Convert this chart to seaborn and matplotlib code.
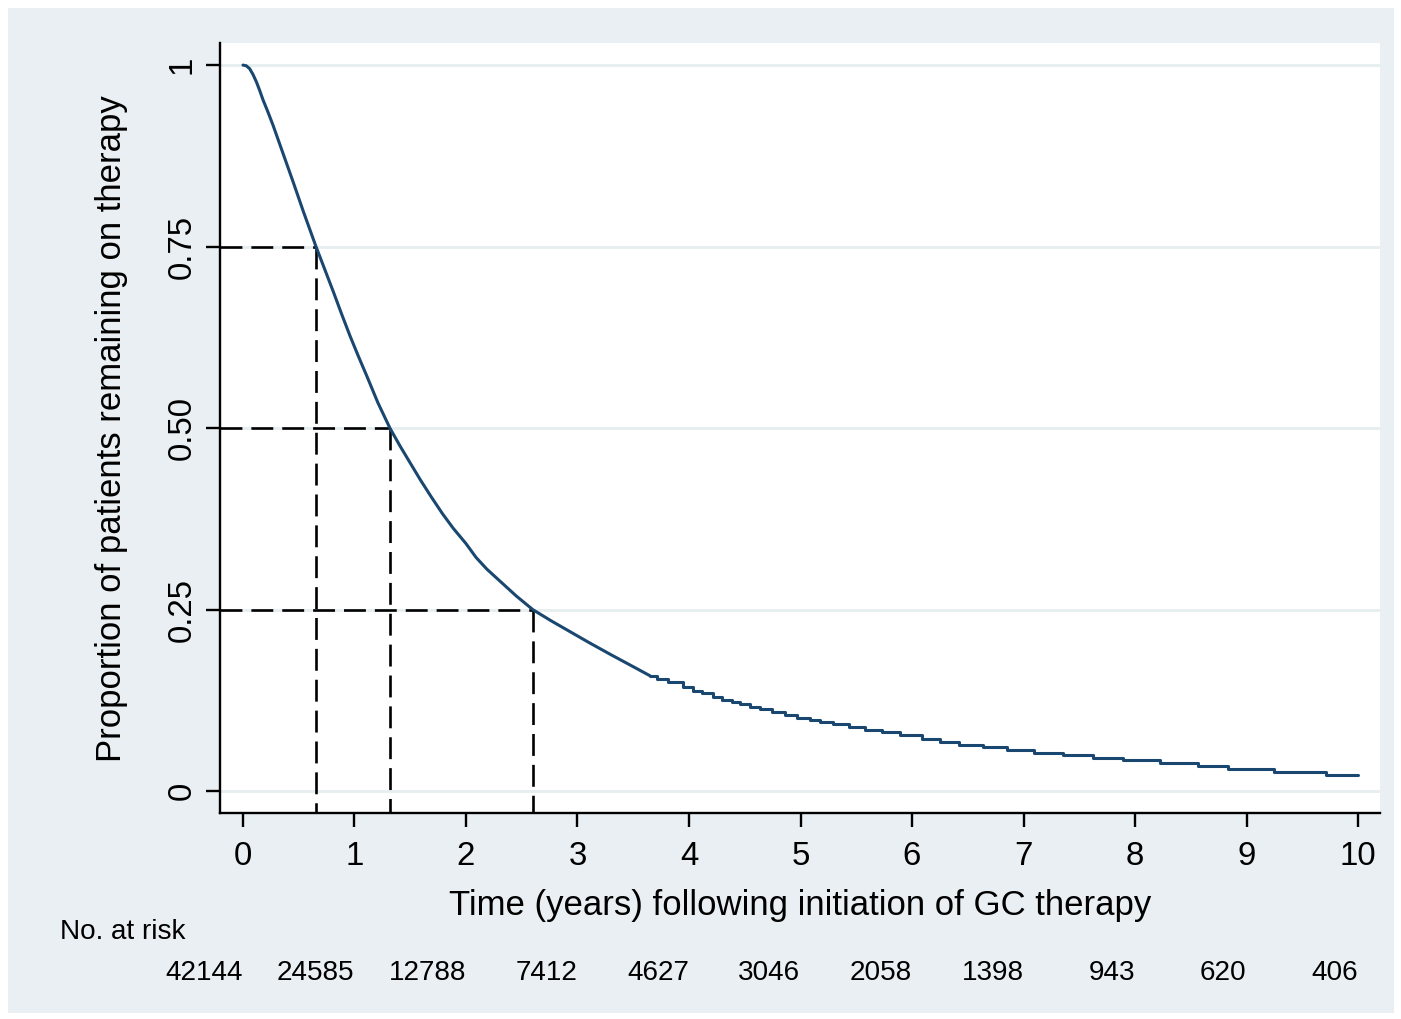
import matplotlib
matplotlib.use("Agg")
import matplotlib.pyplot as plt
import seaborn as sns
import pandas as pd
from matplotlib import font_manager
from matplotlib.patches import Rectangle
from matplotlib.transforms import blended_transform_factory

# ---------------- data ----------------
early_time = [0.0, 0.03, 0.06, 0.09, 0.12, 0.15, 0.18, 0.225, 0.27, 0.36, 0.45, 0.54, 0.655,
              0.73, 0.81, 0.885, 0.96, 1.035, 1.11, 1.21, 1.318, 1.41, 1.50, 1.59, 1.69, 1.79,
              1.886, 2.0, 2.09, 2.186, 2.3, 2.45, 2.60, 2.76, 2.93, 3.1, 3.3, 3.53, 3.65]
early_surv = [1.0, 0.999, 0.995, 0.987, 0.977, 0.965, 0.952, 0.935, 0.917, 0.878, 0.839, 0.799, 0.75,
              0.72, 0.688, 0.657, 0.627, 0.599, 0.572, 0.535, 0.50, 0.475, 0.452, 0.429, 0.405, 0.382,
              0.362, 0.341, 0.322, 0.306, 0.29, 0.269, 0.25, 0.235, 0.220, 0.205, 0.188, 0.169, 0.159]

step_time = [3.65, 3.710, 3.814, 3.949, 4.039, 4.114, 4.218, 4.293, 4.383, 4.457, 4.547,
             4.637, 4.742, 4.861, 4.966, 5.085, 5.175, 5.294, 5.435, 5.578, 5.728, 5.892,
             6.087, 6.251, 6.424, 6.634, 6.855, 7.097, 7.357, 7.621, 7.890, 8.224, 8.568,
             8.83, 9.25, 9.71, 10.0]
step_surv = [0.159, 0.155, 0.150, 0.143, 0.1385, 0.1347, 0.1293, 0.1262, 0.1228, 0.1197, 0.1164,
             0.1127, 0.1090, 0.1043, 0.1015, 0.0986, 0.0956, 0.0921, 0.0880, 0.0848, 0.0812, 0.0773,
             0.0718, 0.0677, 0.0640, 0.0604, 0.0566, 0.0529, 0.0497, 0.0460, 0.0424, 0.0388, 0.0352,
             0.031, 0.027, 0.023, 0.023]

quartile_time = [0.655, 1.318, 2.60]
quartile_level = [0.75, 0.50, 0.25]

x_ticks = list(range(0, 11))
y_ticks = [0, 0.25, 0.5, 0.75, 1]
y_tick_labels = ["0", "0.25", "0.50", "0.75", "1"]
at_risk = [42144, 24585, 12788, 7412, 4627, 3046, 2058, 1398, 943, 620, 406]

x_label = "Time (years) following initiation of GC therapy"
y_label = "Proportion of patients remaining on therapy"
risk_title = "No. at risk"

# ---------------- style ----------------
sns.set_theme(style="white")
fam, fscale = "Liberation Sans", 0.82
for f in font_manager.fontManager.ttflist:
    if "liberation sans narrow" in f.name.lower():
        fam, fscale = f.name, 1.0
        break
plt.rcParams['font.family'] = [fam, 'DejaVu Sans']

BG = "#e9eff2"
GRID = "#e6eef0"
NAVY = "#1a476f"

W, H = 1401, 1019
fig = plt.figure(figsize=(W / 100, H / 100), dpi=100, facecolor="white")
fig.patches.append(Rectangle((8 / W, 1 - 1013 / H), (1394 - 8) / W, (1013 - 8) / H,
                             transform=fig.transFigure, facecolor=BG, edgecolor="none", zorder=-10))

L, R, T, B = 220, 1380, 43, 813
ax = fig.add_axes([L / W, 1 - B / H, (R - L) / W, (B - T) / H])
ax.set_facecolor("white")

df_early = pd.DataFrame({"t": early_time, "s": early_surv})
df_step = pd.DataFrame({"t": step_time, "s": step_surv})
sns.lineplot(data=df_early, x="t", y="s", ax=ax, color=NAVY, lw=2.2, estimator=None, sort=False, zorder=5)
sns.lineplot(data=df_step, x="t", y="s", ax=ax, color=NAVY, lw=2.2, estimator=None, sort=False,
             drawstyle="steps-post", zorder=5)

xmin, xmax = -0.206, 10.197
ymin, ymax = -0.030, 1.0304
ax.set_xlim(xmin, xmax)
ax.set_ylim(ymin, ymax)

for qt, ql in zip(quartile_time, quartile_level):
    ax.plot([xmin, qt], [ql, ql], color="black", lw=1.9, ls=(0, (8.3, 3.4)), zorder=4, clip_on=False)
    ax.plot([qt, qt], [ql, ymin], color="black", lw=1.9, ls=(0, (8.3, 3.4)), zorder=4, clip_on=False)

for yv in y_ticks:
    ax.axhline(yv, color=GRID, lw=2.0, zorder=1)

for s in ["top", "right"]:
    ax.spines[s].set_visible(False)
for s in ["left", "bottom"]:
    ax.spines[s].set_color("black")
    ax.spines[s].set_linewidth(1.7)

tick_fs = 29 * fscale
lab_fs = 30.5 * fscale
risk_fs = 24.5 * fscale

ax.set_xticks(x_ticks)
ax.set_xticklabels([str(v) for v in x_ticks], fontsize=tick_fs, color="black")
ax.set_yticks(y_ticks)
ax.set_yticklabels(y_tick_labels, fontsize=tick_fs, color="black", rotation=90, va="center")
ax.tick_params(axis="x", which="major", direction="out", length=10, width=1.7,
               color="black", bottom=True, pad=10)
ax.tick_params(axis="y", which="major", direction="out", length=10, width=1.7,
               color="black", left=True, pad=6)

ax.set_xlabel(x_label, fontsize=lab_fs, color="black", va="center")
ax.xaxis.set_label_coords(0.5, (B - 905) / (B - T))
ax.set_ylabel(y_label, fontsize=lab_fs, color="black", va="center")
ax.yaxis.set_label_coords((112 - L) / (R - L), (B - 428.5) / (B - T))

fig.text(60 / W, 1 - 932 / H, risk_title, fontsize=risk_fs, color="black", ha="left", va="center")
trans = blended_transform_factory(ax.transData, ax.transAxes)
for xv, n in zip(x_ticks, at_risk):
    ax.text(xv, (B - 973) / (B - T), str(n), transform=trans, fontsize=risk_fs, color="black",
            ha="right", va="center", clip_on=False)

fig.savefig("out.png", dpi=100, facecolor="white")
